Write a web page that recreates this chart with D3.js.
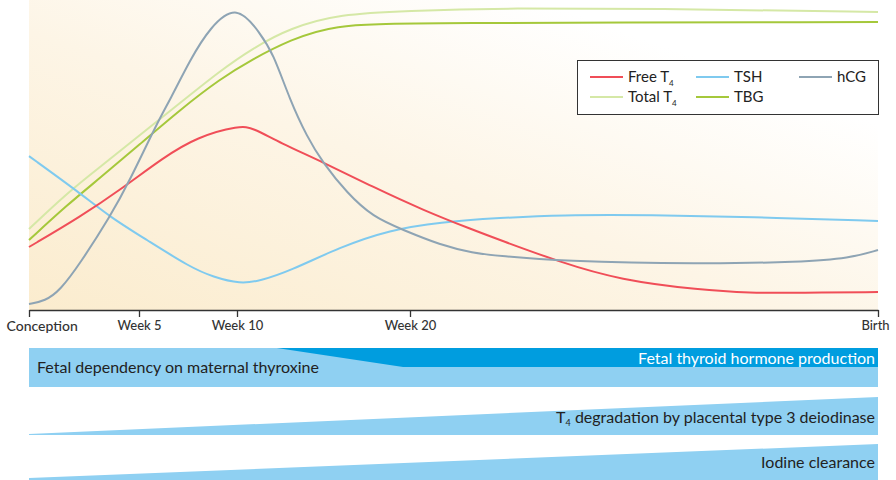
<!DOCTYPE html>
<html><head><meta charset="utf-8">
<script src="https://cdn.jsdelivr.net/npm/d3@7"></script>
<style>
html,body{margin:0;padding:0;background:#fff;}
svg{display:block;font-family:Lato, "Open Sans", sans-serif;}
</style></head>
<body>
<svg id="c" width="896" height="480"></svg>
<script>
// ---- data (weeks of gestation, relative level 0-100) ----
const tickWeeks = [0, 5, 10, 20, 40];
const tickLabels = ["Conception", "Week 5", "Week 10", "Week 20", "Birth"];

const hcgWeeks = [0, 0.73, 1.41, 2.32, 3.68, 4.59, 5.92, 6.58, 7.6, 8.62, 10, 11.33, 12.08, 13.06, 14.05, 14.97, 16.36, 17.86, 19.6, 21.28, 22.69, 23.85, 26.4, 32.4, 36.7, 38.8, 40];
const hcgVals  = [2, 3, 6.5, 15.5, 31, 43.3, 62.3, 70, 83.3, 94.3, 102, 92.3, 85.7, 70, 57.7, 49, 39, 31, 26.7, 21.7, 19, 18, 16.3, 15.3, 16, 17.3, 20];

const freeT4Weeks = [0, 2.32, 4.27, 6.22, 7.96, 10.17, 10.92, 12.49, 14.97, 17.86, 20.56, 22.69, 23.85, 26.4, 28.97, 32.4, 34.5, 36.7, 40];
const freeT4Vals  = [21, 31, 40.7, 50.7, 57.7, 61.5, 60.7, 55.7, 49.3, 41, 33.3, 26.7, 23.3, 16, 10, 6.7, 5.7, 5.7, 6];

const tshWeeks = [0, 2.32, 3.68, 5.41, 7.6, 8.78, 10.2, 11.33, 13.06, 15.95, 18.84, 21.28, 23.85, 26.4, 30.3, 34.5, 40];
const tshVals  = [51.3, 39, 31, 23.3, 14.3, 11, 8.7, 9.7, 13, 21, 26.7, 29.3, 30.7, 31.7, 31.7, 31, 29.7];

const totalT4Weeks = [0, 1.73, 3.23, 5.05, 7.09, 9.13, 10.92, 13.06, 15.95, 19.83, 23.85, 32.4, 40];
const totalT4Vals  = [27, 39, 47.7, 58.3, 69, 79.7, 87.3, 94, 98.7, 99.7, 100.7, 100.3, 99.3];

const tbgWeeks = [0, 1.73, 3.23, 5.05, 7.09, 9.13, 10.92, 13.06, 15.55, 19.83, 40];
const tbgVals  = [23.3, 35, 44, 55.3, 66.7, 77, 83.7, 90, 95, 95.7, 96];

const seriesNames  = ["Free T4", "TSH", "hCG", "Total T4", "TBG"];
const seriesColors = ["#f04e58", "#7fcaef", "#8ea4b4", "#d5e8a6", "#a5c83b"];

// bands
const bandLabels = ["Fetal dependency on maternal thyroxine", "Fetal thyroid hormone production",
                    "T4 degradation by placental type 3 deiodinase", "Iodine clearance"];
const fetalProdStartWeeks = [12.3, 19.6]; // slanted start of fetal production band (top, bottom)

// ---- layout ----
const svg = d3.select("#c");
const x = d3.scaleLinear().domain(tickWeeks).range([29, 139, 237, 410, 878]);
const y = d3.scaleLinear().domain([0, 100]).range([310, 10]);

const defs = svg.append("defs");
const grad = defs.append("linearGradient").attr("id", "bg")
  .attr("x1", 0).attr("y1", 1).attr("x2", 1).attr("y2", 0);
grad.append("stop").attr("offset", 0).attr("stop-color", "#fbecce");
grad.append("stop").attr("offset", 0.45).attr("stop-color", "#fdf5e6");
grad.append("stop").attr("offset", 0.8).attr("stop-color", "#ffffff");

svg.append("rect").attr("x", x(0)).attr("y", 0)
  .attr("width", x(40) - x(0)).attr("height", y(0)).attr("fill", "url(#bg)");

const smooth = d3.line().x(d => x(d[0])).y(d => y(d[1])).curve(d3.curveBasis);
const series = [
  [freeT4Weeks, freeT4Vals],
  [tshWeeks, tshVals],
  [hcgWeeks, hcgVals],
  [totalT4Weeks, totalT4Vals],
  [tbgWeeks, tbgVals]
];
const drawOrder = [3, 4, 1, 0, 2];
drawOrder.forEach(i => {
  const [w, v] = series[i];
  svg.append("path").datum(w.map((d, j) => [d, v[j]]))
    .attr("d", smooth).attr("fill", "none")
    .attr("stroke", seriesColors[i]).attr("stroke-width", 2);
});

// axis
const axis = d3.axisBottom(x).tickValues(tickWeeks)
  .tickFormat((d, i) => tickLabels[i]).tickSizeInner(7).tickSizeOuter(0).tickPadding(4);
const ag = svg.append("g").attr("transform", `translate(0,${y(0)})`).call(axis);
ag.select(".domain").attr("stroke", "#333").attr("stroke-width", 1.3);
ag.selectAll(".tick line").attr("stroke", "#333").attr("stroke-width", 1.3);
ag.selectAll(".tick text").attr("fill", "#333").attr("font-size", 13)
  .attr("font-family", "Lato, sans-serif").attr("font-weight", 500);
ag.selectAll(".tick text").filter((d, i) => i === 0).attr("text-anchor", "start").attr("dx", -23).attr("font-size", 14);
ag.selectAll(".tick text").filter((d, i) => i === 4).attr("dx", -3);

// legend
const lg = svg.append("g");
lg.append("rect").attr("x", 577.5).attr("y", 60.5).attr("width", 301).attr("height", 54)
  .attr("fill", "#fff").attr("stroke", "#333").attr("stroke-width", 1);
const legPos = [[590, 77], [696, 77], [799, 77], [590, 97], [696, 97]];
seriesNames.forEach((n, i) => {
  const [lx, ly] = legPos[i];
  lg.append("line").attr("x1", lx).attr("x2", lx + 33).attr("y1", ly).attr("y2", ly)
    .attr("stroke", seriesColors[i]).attr("stroke-width", 2);
  const t = lg.append("text").attr("x", lx + 38).attr("y", ly + 5)
    .attr("font-size", 15).attr("fill", "#222");
  if (n.endsWith("T4")) {
    t.append("tspan").text(n.slice(0, -1));
    t.append("tspan").text("4").attr("font-size", 8).attr("dy", 4);
  } else t.text(n);
});

// bands
const light = "#8fd0f2", dark = "#009ddf";
svg.append("rect").attr("x", x(0)).attr("y", 348).attr("width", x(40) - x(0)).attr("height", 39).attr("fill", light);
svg.append("path").attr("fill", dark).attr("d",
  `M${x(fetalProdStartWeeks[0])},348 L${x(40)},348 L${x(40)},367 L${x(fetalProdStartWeeks[1])},367 Z`);
svg.append("path").attr("fill", light).attr("d", `M${x(0)},434 L${x(40)},397 L${x(40)},435 L${x(0)},435 Z`);
svg.append("path").attr("fill", light).attr("d", `M${x(0)},478 L${x(40)},444 L${x(40)},480 L${x(0)},480 Z`);

const fs = 16;
svg.append("text").attr("x", 37).attr("y", 373).attr("font-size", fs).attr("fill", "#222").text(bandLabels[0]);
svg.append("text").attr("x", 875).attr("y", 364).attr("text-anchor", "end").attr("font-size", fs)
  .attr("fill", "#fff").text(bandLabels[1]);
const t2 = svg.append("text").attr("x", 875).attr("y", 423).attr("text-anchor", "end").attr("font-size", fs).attr("fill", "#222");
t2.append("tspan").text("T");
t2.append("tspan").text("4").attr("font-size", 9).attr("dy", 3);
t2.append("tspan").text(bandLabels[2].slice(2)).attr("dy", -3);
svg.append("text").attr("x", 875).attr("y", 468).attr("text-anchor", "end").attr("font-size", fs)
  .attr("fill", "#222").text(bandLabels[3]);
</script>
</body></html>
